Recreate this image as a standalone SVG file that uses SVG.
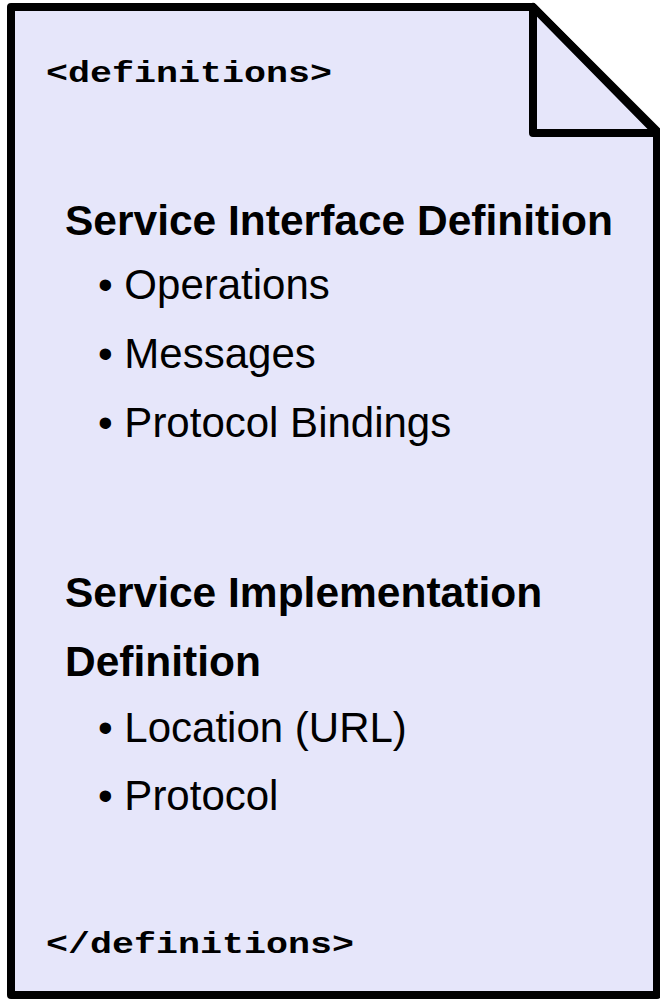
<svg xmlns="http://www.w3.org/2000/svg" width="660" height="999" viewBox="0 0 660 999">
<style>
.doc{fill:#E6E6FA;stroke:#000;stroke-width:8;stroke-linejoin:round}
.tag{font-family:"Liberation Mono","Courier New",monospace;font-weight:bold;font-size:30px;fill:#000}
.h{font-family:"Liberation Sans",Arial,Helvetica,sans-serif;font-weight:bold;font-size:42.5px;fill:#000}
.b{font-family:"Liberation Sans",Arial,Helvetica,sans-serif;font-size:42px;fill:#000}
</style>
<g id="document">
<path class="doc" d="M11,7 H533 L657,131 V995 H11 Z"/>
<path class="doc" d="M533,7 V133 H657 Z"/>
</g>
<g id="open-tag"><text class="tag" x="46" y="82" textLength="286" lengthAdjust="spacingAndGlyphs">&lt;definitions&gt;</text></g>
<g id="interface">
<text class="h" x="65" y="235">Service Interface Definition</text>
<text class="b" x="98" y="299">• Operations</text>
<text class="b" x="98" y="368">• Messages</text>
<text class="b" x="98" y="437">• Protocol Bindings</text>
</g>
<g id="implementation">
<text class="h" x="65" y="607">Service Implementation</text>
<text class="h" x="65" y="676">Definition</text>
<text class="b" x="98" y="742">• Location (URL)</text>
<text class="b" x="98" y="810">• Protocol</text>
</g>
<g id="close-tag"><text class="tag" x="46" y="953" textLength="308" lengthAdjust="spacingAndGlyphs">&lt;/definitions&gt;</text></g>
<g id="connectors"/>
</svg>
